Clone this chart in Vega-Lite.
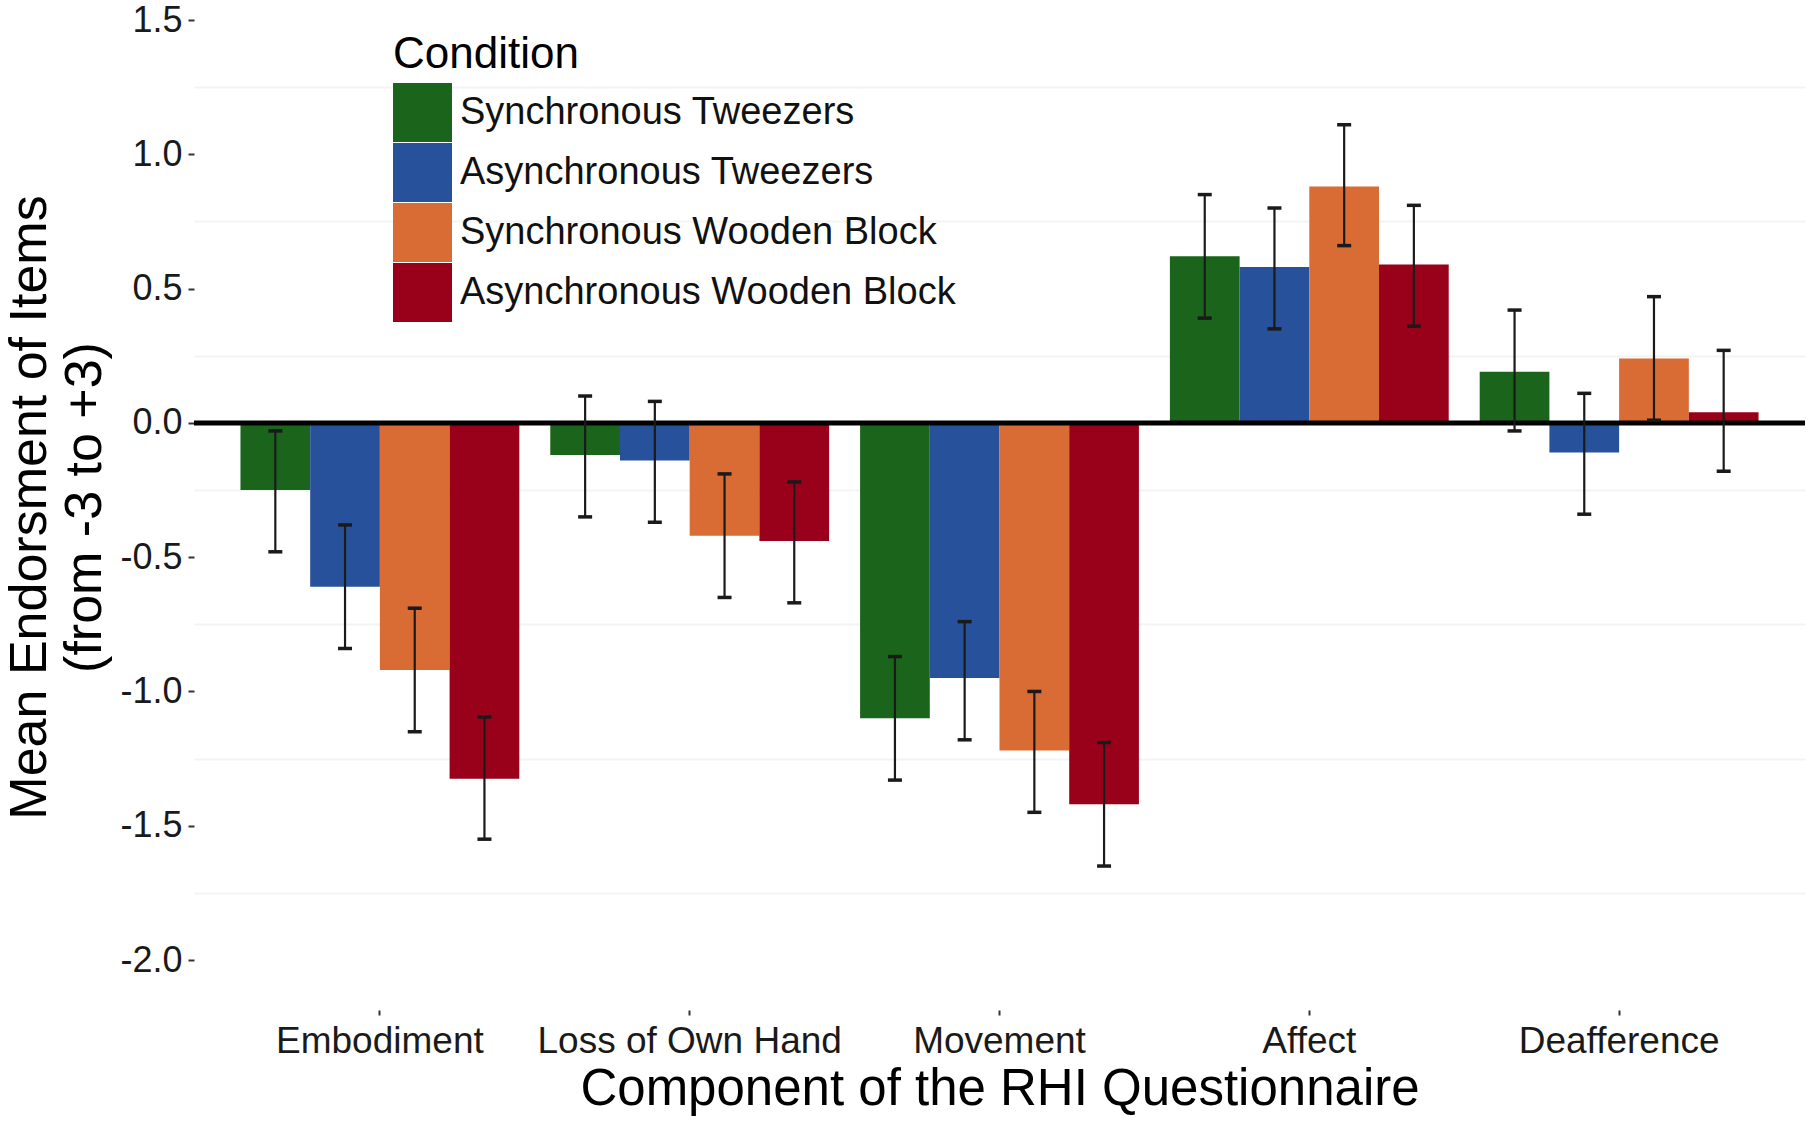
{
  "$schema": "https://vega.github.io/schema/vega-lite/v6.json",
  "width": 1611,
  "height": 1006,
  "autosize": "none",
  "padding": {"left": 194, "top": 4, "right": 6, "bottom": 121},
  "background": "white",
  "config": {"view": {"stroke": null}, "font": "Liberation Sans"},
  "data": {
    "values": [
      {"component": "Embodiment", "condition": "Synchronous Tweezers", "mean": -0.25, "lo": -0.48, "hi": -0.03},
      {"component": "Embodiment", "condition": "Asynchronous Tweezers", "mean": -0.61, "lo": -0.84, "hi": -0.38},
      {"component": "Embodiment", "condition": "Synchronous Wooden Block", "mean": -0.92, "lo": -1.15, "hi": -0.69},
      {"component": "Embodiment", "condition": "Asynchronous Wooden Block", "mean": -1.325, "lo": -1.55, "hi": -1.095},
      {"component": "Loss of Own Hand", "condition": "Synchronous Tweezers", "mean": -0.12, "lo": -0.35, "hi": 0.1},
      {"component": "Loss of Own Hand", "condition": "Asynchronous Tweezers", "mean": -0.14, "lo": -0.37, "hi": 0.08},
      {"component": "Loss of Own Hand", "condition": "Synchronous Wooden Block", "mean": -0.42, "lo": -0.65, "hi": -0.19},
      {"component": "Loss of Own Hand", "condition": "Asynchronous Wooden Block", "mean": -0.44, "lo": -0.67, "hi": -0.22},
      {"component": "Movement", "condition": "Synchronous Tweezers", "mean": -1.1, "lo": -1.33, "hi": -0.87},
      {"component": "Movement", "condition": "Asynchronous Tweezers", "mean": -0.95, "lo": -1.18, "hi": -0.74},
      {"component": "Movement", "condition": "Synchronous Wooden Block", "mean": -1.22, "lo": -1.45, "hi": -1.0},
      {"component": "Movement", "condition": "Asynchronous Wooden Block", "mean": -1.42, "lo": -1.65, "hi": -1.19},
      {"component": "Affect", "condition": "Synchronous Tweezers", "mean": 0.62, "lo": 0.39, "hi": 0.85},
      {"component": "Affect", "condition": "Asynchronous Tweezers", "mean": 0.58, "lo": 0.35, "hi": 0.8},
      {"component": "Affect", "condition": "Synchronous Wooden Block", "mean": 0.88, "lo": 0.66, "hi": 1.11},
      {"component": "Affect", "condition": "Asynchronous Wooden Block", "mean": 0.59, "lo": 0.36, "hi": 0.81},
      {"component": "Deafference", "condition": "Synchronous Tweezers", "mean": 0.19, "lo": -0.03, "hi": 0.42},
      {"component": "Deafference", "condition": "Asynchronous Tweezers", "mean": -0.11, "lo": -0.34, "hi": 0.11},
      {"component": "Deafference", "condition": "Synchronous Wooden Block", "mean": 0.24, "lo": 0.01, "hi": 0.47},
      {"component": "Deafference", "condition": "Asynchronous Wooden Block", "mean": 0.04, "lo": -0.18, "hi": 0.27}
    ]
  },
  "layer": [
    {
      "mark": {"type": "bar"},
      "encoding": {
        "x": {
          "field": "component",
          "type": "nominal",
          "sort": ["Embodiment", "Loss of Own Hand", "Movement", "Affect", "Deafference"],
          "scale": {"paddingInner": 0.1, "paddingOuter": 0.15},
          "title": "Component of the RHI Questionnaire",
          "axis": {
            "labelAngle": 0,
            "labelFontSize": 37,
            "labelColor": "#1a1a1a",
            "labelPadding": 8,
            "labelLimit": 500,
            "tickSize": 5,
            "tickWidth": 2,
            "tickColor": "#333333",
            "domain": false,
            "titleFontSize": 51,
            "titleFontWeight": "normal",
            "titleColor": "black",
            "titlePadding": 5
          }
        },
        "xOffset": {
          "field": "condition",
          "type": "nominal",
          "sort": ["Synchronous Tweezers", "Asynchronous Tweezers", "Synchronous Wooden Block", "Asynchronous Wooden Block"],
          "scale": {"paddingInner": 0, "paddingOuter": 0}
        },
        "y": {
          "field": "mean",
          "type": "quantitative",
          "stack": null,
          "scale": {"domain": [-2.186, 1.5596], "nice": false, "zero": false},
          "title": ["Mean Endorsment of Items", "(from -3 to +3)"],
          "axis": {
            "values": [-2.0, -1.75, -1.5, -1.25, -1.0, -0.75, -0.5, -0.25, 0.0, 0.25, 0.5, 0.75, 1.0, 1.25, 1.5],
            "labelExpr": "abs(datum.value*2 - round(datum.value*2)) < 0.001 ? (datum.value < -0.001 ? '-' : '') + format(abs(datum.value), '.1f') : ''",
            "labelFontSize": 36,
            "labelColor": "#1a1a1a",
            "labelPadding": 6,
            "tickSize": 6,
            "tickWidth": 2,
            "tickColor": "#333333",
            "tickOpacity": {"condition": {"test": "abs(datum.value*2 - round(datum.value*2)) > 0.001", "value": 0}, "value": 1},
            "domain": false,
            "grid": true,
            "gridColor": "#f4f4f4",
            "gridWidth": 2,
            "gridOpacity": {"condition": {"test": "abs(datum.value*2 - round(datum.value*2)) > 0.001", "value": 1}, "value": 0},
            "titleFontSize": 52,
            "titleLineHeight": 55,
            "titleFontWeight": "normal",
            "titleColor": "black",
            "titlePadding": 8
          }
        },
        "y2": {"datum": 0},
        "color": {
          "field": "condition",
          "type": "nominal",
          "sort": ["Synchronous Tweezers", "Asynchronous Tweezers", "Synchronous Wooden Block", "Asynchronous Wooden Block"],
          "scale": {
            "domain": ["Synchronous Tweezers", "Asynchronous Tweezers", "Synchronous Wooden Block", "Asynchronous Wooden Block"],
            "range": ["#1b641b", "#27529b", "#d96b35", "#990019"]
          },
          "title": "Condition",
          "legend": {
            "orient": "none",
            "legendX": 199,
            "legendY": 29,
            "padding": 0,
            "titleFontSize": 44,
            "titleFontWeight": "normal",
            "titleColor": "black",
            "titleLimit": 1000,
            "titlePadding": 6,
            "labelFontSize": 38,
            "labelColor": "#111111",
            "labelLimit": 600,
            "labelOffset": 8,
            "symbolType": "square",
            "symbolSize": 3481,
            "symbolStrokeWidth": 0,
            "symbolOpacity": 1,
            "rowPadding": 1
          }
        }
      }
    },
    {
      "data": {"values": [{"zero": 0}]},
      "mark": {"type": "rule", "color": "black", "strokeWidth": 5},
      "encoding": {"y": {"field": "zero", "type": "quantitative"}}
    },
    {
      "mark": {"type": "rule", "color": "#1a1a1a", "strokeWidth": 2.2},
      "encoding": {
        "x": {"field": "component", "type": "nominal", "sort": ["Embodiment", "Loss of Own Hand", "Movement", "Affect", "Deafference"]},
        "xOffset": {"field": "condition", "type": "nominal", "sort": ["Synchronous Tweezers", "Asynchronous Tweezers", "Synchronous Wooden Block", "Asynchronous Wooden Block"]},
        "y": {"field": "lo", "type": "quantitative"},
        "y2": {"field": "hi"}
      }
    },
    {
      "mark": {"type": "tick", "color": "#1a1a1a", "size": 14, "thickness": 3.5, "opacity": 1},
      "encoding": {
        "x": {"field": "component", "type": "nominal", "sort": ["Embodiment", "Loss of Own Hand", "Movement", "Affect", "Deafference"]},
        "xOffset": {"field": "condition", "type": "nominal", "sort": ["Synchronous Tweezers", "Asynchronous Tweezers", "Synchronous Wooden Block", "Asynchronous Wooden Block"]},
        "y": {"field": "lo", "type": "quantitative"}
      }
    },
    {
      "mark": {"type": "tick", "color": "#1a1a1a", "size": 14, "thickness": 3.5, "opacity": 1},
      "encoding": {
        "x": {"field": "component", "type": "nominal", "sort": ["Embodiment", "Loss of Own Hand", "Movement", "Affect", "Deafference"]},
        "xOffset": {"field": "condition", "type": "nominal", "sort": ["Synchronous Tweezers", "Asynchronous Tweezers", "Synchronous Wooden Block", "Asynchronous Wooden Block"]},
        "y": {"field": "hi", "type": "quantitative"}
      }
    }
  ]
}
